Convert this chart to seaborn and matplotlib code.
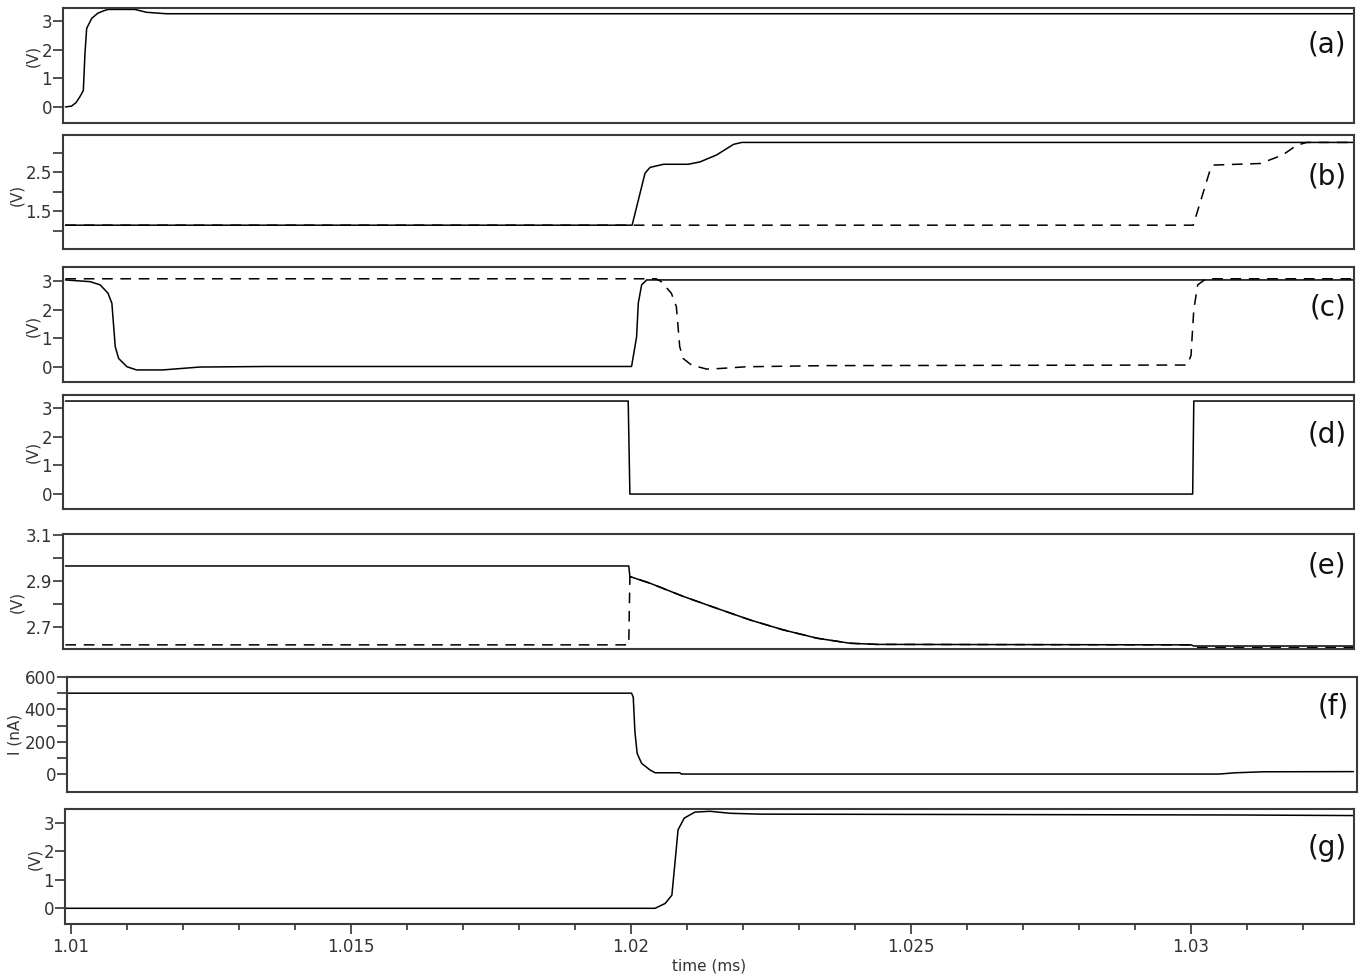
import matplotlib
matplotlib.use("Agg")
import matplotlib.pyplot as plt
import seaborn as sns
import pandas as pd
from matplotlib.ticker import MultipleLocator

# ---- waveform data (time in ms) ----
a_t = [1.0099, 1.01001, 1.01009, 1.01016, 1.01022, 1.01025, 1.01028, 1.01037,
       1.01048, 1.01058, 1.01066, 1.01114, 1.01135, 1.0117, 1.0329]
a_v = [0.0, 0.03, 0.15, 0.36, 0.57, 1.88, 2.74, 3.09, 3.27, 3.35, 3.40, 3.40,
       3.30, 3.25, 3.25]

b1_t = [1.0099, 1.02002, 1.02025, 1.02034, 1.02058, 1.02102, 1.02123, 1.02153,
        1.02183, 1.02198, 1.0329]
b1_v = [1.14, 1.14, 2.47, 2.62, 2.70, 2.70, 2.76, 2.94, 3.21, 3.26, 3.26]
b2_t = [1.0099, 1.03004, 1.03034, 1.0304, 1.03124, 1.03164, 1.03189, 1.03207, 1.0329]
b2_v = [1.14, 1.14, 2.55, 2.68, 2.72, 2.94, 3.19, 3.26, 3.26]

c1_t = [1.0099, 1.01034, 1.01052, 1.01066, 1.01073, 1.01079, 1.01085, 1.011,
        1.01117, 1.01164, 1.0123, 1.0135, 1.02001, 1.0201, 1.02013, 1.02019,
        1.02028, 1.0329]
c1_v = [3.03, 2.97, 2.86, 2.57, 2.22, 0.71, 0.30, 0.01, -0.10, -0.10, 0.0, 0.02,
        0.02, 1.05, 2.22, 2.86, 3.03, 3.03]
c2_t = [1.0099, 1.02045, 1.02054, 1.02072, 1.02081, 1.02087, 1.02093, 1.02108,
        1.02135, 1.02159, 1.02206, 1.0235, 1.02993, 1.03, 1.03005, 1.03012,
        1.03027, 1.0329]
c2_v = [3.07, 3.07, 2.97, 2.57, 2.10, 0.71, 0.30, 0.07, -0.07, -0.05, 0.01, 0.05,
        0.07, 0.40, 2.00, 2.86, 3.07, 3.07]

d_t = [1.0099, 1.01995, 1.01998, 1.03003, 1.03005, 1.0329]
d_v = [3.24, 3.24, 0.0, 0.0, 3.24, 3.24]

e1_t = [1.0099, 1.01996, 1.01998, 1.02034, 1.02094, 1.02153, 1.02213, 1.02272,
        1.02332, 1.02391, 1.02439, 1.0300, 1.03005, 1.0329]
e1_v = [2.965, 2.965, 2.919, 2.89, 2.832, 2.781, 2.73, 2.687, 2.651, 2.629,
        2.624, 2.622, 2.617, 2.617]
e2_t = [1.0099, 1.01996, 1.01998, 1.02034, 1.02094, 1.02153, 1.02213, 1.02272,
        1.02332, 1.02391, 1.02439, 1.0300, 1.03008, 1.0329]
e2_v = [2.622, 2.622, 2.919, 2.89, 2.832, 2.781, 2.73, 2.687, 2.651, 2.629,
        2.624, 2.622, 2.61, 2.61]

f_t = [1.0099, 1.02001, 1.02004, 1.02007, 1.02011, 1.02019, 1.02034, 1.02043,
       1.02087, 1.0209, 1.0305, 1.0308, 1.0313, 1.0329]
f_v = [500, 500, 476, 261, 127, 66, 25, 8, 8, 0, 0, 8, 14, 15]

g_t = [1.0099, 1.02043, 1.02061, 1.02073, 1.02079, 1.02084, 1.02095, 1.02114,
       1.02141, 1.02177, 1.0223, 1.03086, 1.0329]
g_v = [0, 0, 0.17, 0.46, 1.7, 2.75, 3.16, 3.37, 3.40, 3.33, 3.30, 3.27, 3.25]

x_major = [1.01, 1.015, 1.02, 1.025, 1.03]
x_labels = ["1.01", "1.015", "1.02", "1.025", "1.03"]

# ---- style ----
sns.set_style("white")
plt.rcParams["font.family"] = ["DejaVu Sans"]

W, H = 1362, 975
fig = plt.figure(figsize=(W / 100, H / 100), dpi=100)

# panel boxes in pixels: top, bottom, left, right
boxes = [(8, 123, 63, 1354), (135, 249, 63, 1354), (267, 382, 63, 1354),
         (395, 509, 63, 1354), (534, 649, 63, 1354), (677, 792, 67, 1357),
         (809, 924, 65, 1354)]

def px2t(x):
    return 1.01 + (x - 71) / 56000.0

axes = []
for top, bot, left, right in boxes:
    ax = fig.add_axes([left / W, 1 - bot / H, (right - left) / W, (bot - top) / H])
    ax.set_xlim(px2t(left), px2t(right))
    axes.append(ax)

dash = (0, (7, 5))
lw = 1.1

def trace(ax, t, v, dashed=False):
    df = pd.DataFrame({"t": t, "v": v})
    sns.lineplot(data=df, x="t", y="v", ax=ax, color="black", lw=lw,
                 estimator=None, sort=False,
                 linestyle=dash if dashed else "-")

trace(axes[0], a_t, a_v)
trace(axes[1], b1_t, b1_v)
trace(axes[1], b2_t, b2_v, dashed=True)
trace(axes[2], c1_t, c1_v)
trace(axes[2], c2_t, c2_v, dashed=True)
trace(axes[3], d_t, d_v)
trace(axes[4], e2_t, e2_v, dashed=True)
trace(axes[4], e1_t, e1_v)
trace(axes[5], f_t, f_v)
trace(axes[6], g_t, g_v)

ylims = [(-0.56, 3.45), (0.53, 3.45), (-0.52, 3.48), (-0.52, 3.45),
         (2.604, 3.104), (-111, 600), (-0.55, 3.48)]
ytick_sets = [
    ([0, 1, 2, 3], ["0", "1", "2", "3"]),
    ([1.0, 1.5, 2.0, 2.5, 3.0], ["", "1.5", "", "2.5", ""]),
    ([0, 1, 2, 3], ["0", "1", "2", "3"]),
    ([0, 1, 2, 3], ["0", "1", "2", "3"]),
    ([2.7, 2.8, 2.9, 3.0, 3.1], ["2.7", "", "2.9", "", "3.1"]),
    ([0, 100, 200, 300, 400, 500, 600], ["0", "", "200", "", "400", "", "600"]),
    ([0, 1, 2, 3], ["0", "1", "2", "3"]),
]
ylabels = ["(V)", "(V)", "(V)", "(V)", "(V)", "I (nA)", "(V)"]
ylabel_y = [0.58, 0.47, 0.49, 0.5, 0.41, 0.5, 0.57]
tags = ["(a)", "(b)", "(c)", "(d)", "(e)", "(f)", "(g)"]
tag_y = [0.68, 0.64, 0.65, 0.65, 0.73, 0.74, 0.66]

for i, ax in enumerate(axes):
    ax.set_ylim(*ylims[i])
    ax.set_yticks(ytick_sets[i][0])
    ax.set_yticklabels(ytick_sets[i][1])
    ax.tick_params(axis="y", direction="out", length=7, width=1.2,
                   colors="#333333", labelsize=12, pad=1, left=True)
    for s in ax.spines.values():
        s.set_color("#3a3a3a")
        s.set_linewidth(1.5)
    ax.set_ylabel(ylabels[i], fontsize=11, color="#333333", labelpad=1)
    ax.yaxis.label.set_y(ylabel_y[i])
    ax.set_xlabel("")
    ax.text(0.994, tag_y[i], tags[i], transform=ax.transAxes, ha="right",
            va="center", fontsize=20, color="#111111")
    if i < 6:
        ax.tick_params(axis="x", bottom=False, labelbottom=False)

gx = axes[6]
gx.set_xticks(x_major)
gx.set_xticklabels(x_labels)
gx.xaxis.set_minor_locator(MultipleLocator(0.001))
gx.tick_params(axis="x", which="major", direction="out", length=7, width=1.2,
               colors="#333333", labelsize=12, bottom=True, pad=3)
gx.tick_params(axis="x", which="minor", direction="out", length=4, width=1.2,
               colors="#333333", bottom=True)
gx.set_xlabel("time (ms)", fontsize=11, color="#333333", labelpad=2)

fig.savefig("out.png", dpi=100)
